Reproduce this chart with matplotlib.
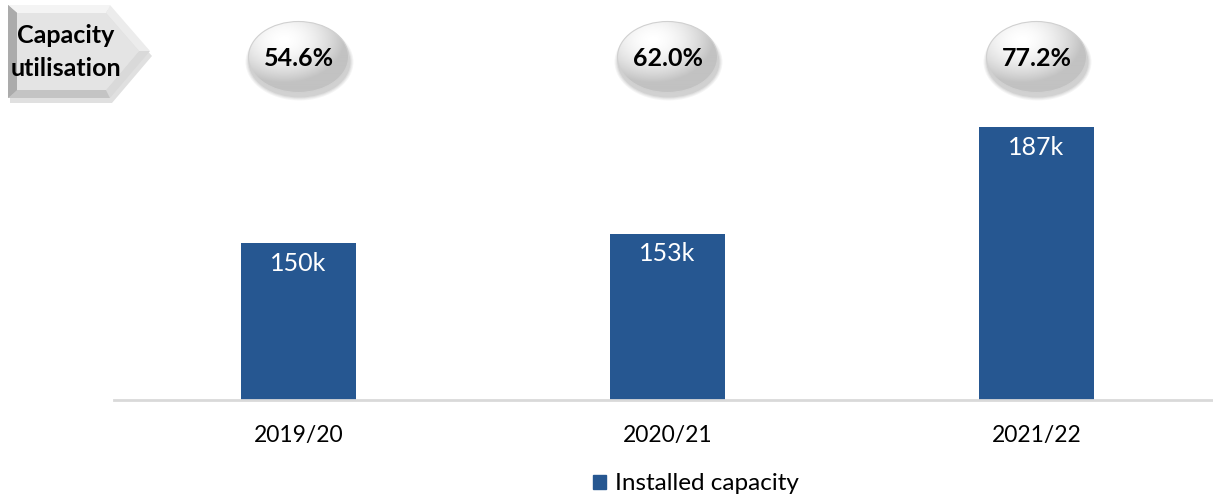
import numpy as np
import matplotlib
matplotlib.use("Agg")
import matplotlib.pyplot as plt
from matplotlib.patches import Ellipse, Polygon, Rectangle

plt.rcParams['font.family'] = ['Lato', 'DejaVu Sans']

# data
years = ['2019/20', '2020/21', '2021/22']
capacity_k = [150, 153, 187]
utilisation = ['54.6%', '62.0%', '77.2%']
series_name = 'Installed capacity'

W, H = 1213, 499
bar_color = '#265791'

fig = plt.figure(figsize=(W / 100, H / 100), dpi=100)

# main bar axes
ax = fig.add_axes([114 / W, (H - 400) / H, 1099 / W, 313.5 / H])
x = np.arange(len(years))
bars = ax.bar(x, capacity_k, width=0.312, color=bar_color, zorder=2)
ax.set_xlim(-0.5, -0.5 + 1099 / 369)
ax.set_ylim(100, 200)
for s in ['top', 'right', 'left']:
    ax.spines[s].set_visible(False)
ax.spines['bottom'].set_color('#d9d9d9')
ax.spines['bottom'].set_linewidth(2)
ax.set_yticks([])
ax.set_xticks(x)
ax.set_xticklabels(years, fontsize=16.5)
ax.tick_params(axis='x', length=0, pad=18)

for b, v in zip(bars, capacity_k):
    ax.annotate(f'{v}k', (b.get_x() + b.get_width() / 2, v), xytext=(0, -6),
                textcoords='offset points', ha='center', va='top',
                color='white', fontsize=18)

# overlay axes in pixel space for the decorations
ov = fig.add_axes([0, 0, 1, 1], zorder=5)
ov.set_xlim(0, W)
ov.set_ylim(H, 0)
ov.axis('off')

# radial gradient image used to fill the bubbles
gy, gx = np.mgrid[-1:1:200j, -1:1:200j]
rad = np.sqrt((gx + 0.3) ** 2 + (gy + 0.5) ** 2)
grad = np.clip(1.0 - 0.17 * rad ** 1.8, 0.76, 1.0)

fig.canvas.draw()
for i, lab in enumerate(utilisation):
    cx = ax.transData.transform((x[i], 0))[0]
    cy = 57
    ew, eh = 100, 71
    # soft shadow
    for k, a in enumerate([0.04, 0.04, 0.05, 0.06]):
        ov.add_patch(Ellipse((cx + 1, cy + 5), ew + 8 - 2 * k, eh + 6 - 2 * k,
                             color='black', alpha=a, lw=0, zorder=1))
    e = Ellipse((cx, cy), ew, eh, facecolor='none', edgecolor='#d0d0d0',
                lw=0.8, zorder=3)
    ov.add_patch(e)
    im = ov.imshow(grad, cmap='gray', vmin=0, vmax=1,
                   extent=(cx - ew / 2, cx + ew / 2, cy + eh / 2, cy - eh / 2),
                   zorder=2, interpolation='bilinear')
    im.set_clip_path(e)
    ov.text(cx, cy + 1, lab, ha='center', va='center', fontsize=18,
            fontweight='bold', color='black', zorder=4)

# bevelled arrow label on the left
outer = [(8, 5), (110, 5), (150, 51), (110, 98), (8, 98)]
inner = [(17, 13), (106, 13), (139, 51), (106, 90), (17, 90)]
ov.add_patch(Polygon([(p[0] + 2, p[1] + 5) for p in outer], closed=True,
                     color='black', alpha=0.12, lw=0, zorder=1))
facet_cols = ['#f4f4f4', '#ececec', '#d9d9d9', '#c4c4c4', '#b0b0b0']
for j in range(5):
    a, b = outer[j], outer[(j + 1) % 5]
    c, d = inner[(j + 1) % 5], inner[j]
    ov.add_patch(Polygon([a, b, c, d], closed=True, color=facet_cols[j],
                         lw=0, zorder=2))
# left facet (between last and first point) is dark
ov.add_patch(Polygon([outer[4], outer[0], inner[0], inner[4]], closed=True,
                     color='#ababab', lw=0, zorder=2))
ov.add_patch(Polygon(inner, closed=True, color='#e4e4e4', lw=0, zorder=2))
ov.text(66, 35, 'Capacity', ha='center', va='center', fontsize=18,
        fontweight='bold', zorder=4)
ov.text(66, 68, 'utilisation', ha='center', va='center', fontsize=18,
        fontweight='bold', zorder=4)

# legend
fig.legend([Rectangle((0, 0), 1, 1, color=bar_color)], [series_name],
           loc='center', bbox_to_anchor=(696 / W, (H - 484) / H),
           frameon=False, fontsize=17.5, handlelength=0.55, handleheight=0.55,
           handletextpad=0.35)

fig.savefig('out.png', dpi=100)
